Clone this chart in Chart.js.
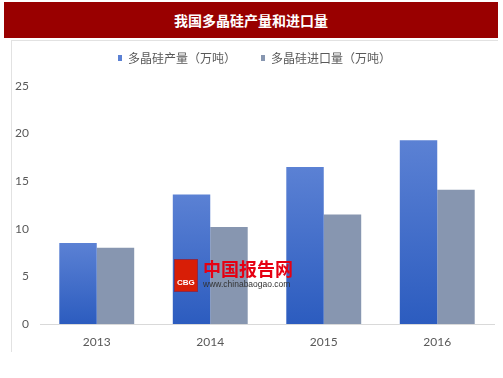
<!DOCTYPE html>
<html>
<head>
<meta charset="utf-8">
<script src="https://cdn.jsdelivr.net/npm/chart.js@4/dist/chart.umd.min.js"></script>
<style>
    body{ margin:0; background:#ffffff; }
    #wrap{ position:relative; width:503px; height:378px; overflow:hidden; }
    #titleBar{
        position:absolute; left:4px; top:2px; width:494px; height:36px;
        background:#990000; color:#ffffff;
        font-family:"Noto Sans CJK SC", sans-serif; font-weight:bold; font-size:14px;
        line-height:36px; text-align:center;
    }
    #panelTop{ position:absolute; left:11px; top:40px; width:487px; height:1px; background:#e2e2e2; }
    #panelLeft{ position:absolute; left:11px; top:40px; width:1px; height:312px; background:#e2e2e2; }
    #chartBox{ position:absolute; left:0; top:0; width:503px; height:378px; }
    #mark{ position:absolute; left:174px; top:258px; width:125px; height:34px; }
    #logo{
        position:absolute; left:0; top:1px; width:22px; height:31px;
        background:#d81e06; border:1px solid #8a2a4a;
    }
    #logoTxt{
        position:absolute; left:2px; top:18px; color:#ffffff;
        font-family:"Liberation Sans", sans-serif; font-weight:bold; font-size:8px;
    }
    #markCn{
        position:absolute; left:29px; top:0; color:#e60012;
        font-family:"Noto Sans CJK SC", sans-serif; font-weight:bold; font-size:18px; line-height:20px;
    }
    #markUrl{
        position:absolute; left:29px; top:21px; color:#333333;
        font-family:"Liberation Sans", sans-serif; font-size:8.5px; line-height:10px;
    }
</style>
</head>
<body>
<div id="wrap">
    <div id="titleBar">我国多晶硅产量和进口量</div>
    <div id="panelTop"></div>
    <div id="panelLeft"></div>
    <div id="chartBox"><canvas id="graphSilicon" width="503" height="378"></canvas></div>
    <div id="mark">
        <div id="logo"><span id="logoTxt">CBG</span></div>
        <div id="markCn">中国报告网</div>
        <div id="markUrl">www.chinabaogao.com</div>
    </div>
</div>

<script>
const years = ['2013', '2014', '2015', '2016'];
const production = [8.5, 13.6, 16.5, 19.3];
const imports = [8.0, 10.2, 11.5, 14.1];
const seriesNames = ['多晶硅产量（万吨）', '多晶硅进口量（万吨）'];
const yTicks = [0, 5, 10, 15, 20, 25];


function blueFill(context){
    const chart = context.chart;
    const yScale = chart.scales.y;
    if(!chart.chartArea || !yScale || context.type !== 'data'){
        return '#3f68c6';
    }
    const top = yScale.getPixelForValue(context.raw);
    const bottom = yScale.getPixelForValue(0);
    const g = chart.ctx.createLinearGradient(0, top, 0, bottom);
    g.addColorStop(0, '#5b81d4');
    g.addColorStop(1, '#2c5cbf');
    return g;
};


window.addEventListener("load", function(){

    Chart.defaults.font.family = "Lato";
    Chart.defaults.font.size = 12;
    Chart.defaults.color = '#595959';

    const canvasSilicon = document.getElementById('graphSilicon').getContext('2d');
    let graphSilicon = new Chart(canvasSilicon, {

        type: 'bar',

        data: {
            labels: years,
            datasets: [{
                label: seriesNames[0],
                data: production,
                backgroundColor: blueFill,
                borderWidth: 0
            },{
                label: seriesNames[1],
                data: imports,
                backgroundColor: '#8796b0',
                borderWidth: 0
            }]
        },
        options:{
            responsive: false,
            animation: false,
            layout:{
                padding:{
                    left: 15,
                    right: 9,
                    top: 27,
                    bottom: 0
                }
            },
            datasets:{
                bar:{
                    categoryPercentage: 0.66,
                    barPercentage: 1.0
                }
            },
            scales:{
                x:{
                    grid:{ display: false },
                    border:{ display: true, color: '#d9d9d9', width: 1 },
                    ticks:{ padding: 3, font:{ size: 12 } },
                    afterFit: function(scale){ scale.height = 54; }
                },
                xTop:{
                    type: 'category',
                    labels: years,
                    position: 'top',
                    grid:{ display: false },
                    border:{ display: false },
                    ticks:{ display: false },
                    afterFit: function(scale){ scale.height = 12; }
                },
                y:{
                    min: 0,
                    max: 25,
                    grid:{ display: false, drawTicks: false },
                    border:{ display: false },
                    ticks:{
                        padding: 11,
                        stepSize: 5,
                        font:{ size: 12 }
                    },
                    afterBuildTicks: function(scale){
                        scale.ticks = yTicks.map(v => ({ value: v }));
                    },
                    afterFit: function(scale){ scale.width = 25; }
                }
            },
            plugins:{
                legend:{
                    position: 'top',
                    labels:{
                        boxWidth: 4,
                        boxHeight: 6,
                        padding: 25,
                        color: '#595959',
                        font:{ family: "Noto Sans CJK SC", size: 12 }
                    }
                },
                tooltip:{ enabled: false }
            }
        }
    });
});
</script>
</body>
</html>
